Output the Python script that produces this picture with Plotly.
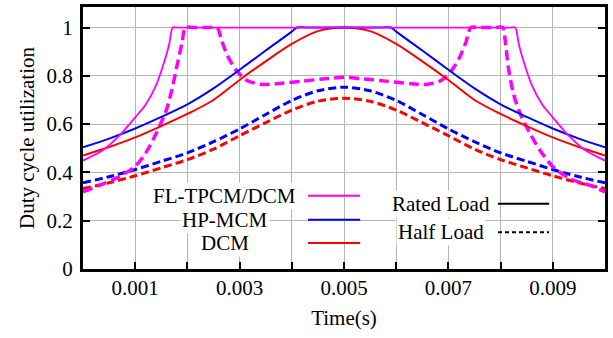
import plotly.graph_objects as go

# ---- data ----
t_std = [0, 0.0005, 0.001, 0.0015, 0.002, 0.0025, 0.003, 0.0035, 0.004, 0.0045, 0.005,
         0.0055, 0.006, 0.0065, 0.007, 0.0075, 0.008, 0.0085, 0.009, 0.0095, 0.01]

dcm_rated = [0.470, 0.505, 0.545, 0.592, 0.642, 0.700, 0.783, 0.860, 0.932, 0.985, 1.000,
             0.985, 0.932, 0.860, 0.783, 0.700, 0.642, 0.592, 0.545, 0.505, 0.470]
dcm_half = [0.333, 0.357, 0.386, 0.419, 0.453, 0.496, 0.552, 0.606, 0.658, 0.695, 0.707,
            0.695, 0.658, 0.606, 0.552, 0.496, 0.453, 0.419, 0.386, 0.357, 0.333]
hp_half = [0.357, 0.382, 0.412, 0.446, 0.481, 0.527, 0.580, 0.640, 0.698, 0.738, 0.753,
           0.738, 0.698, 0.640, 0.580, 0.527, 0.481, 0.446, 0.412, 0.382, 0.357]

t_hp_rated = [0, 0.0005, 0.001, 0.0015, 0.002, 0.0025, 0.003, 0.0035, 0.004, 0.0041, 0.0043,
              0.0057, 0.0059, 0.006, 0.0065, 0.007, 0.0075, 0.008, 0.0085, 0.009, 0.0095, 0.01]
hp_rated = [0.504, 0.540, 0.582, 0.630, 0.682, 0.748, 0.825, 0.905, 0.983, 1.0, 1.0,
            1.0, 1.0, 0.983, 0.905, 0.825, 0.748, 0.682, 0.630, 0.582, 0.540, 0.504]

t_fl_rated = [0, 0.0004, 0.0007, 0.001, 0.0012, 0.0014, 0.00156, 0.00165, 0.00172, 0.0018,
              0.0082, 0.00828, 0.00835, 0.00844, 0.0086, 0.0088, 0.009, 0.0093, 0.0096, 0.01]
fl_rated = [0.449, 0.495, 0.553, 0.628, 0.680, 0.760, 0.860, 0.930, 1.0, 1.0,
            1.0, 1.0, 0.930, 0.860, 0.760, 0.680, 0.628, 0.553, 0.495, 0.449]

t_fl_half = [0, 0.0003, 0.0006, 0.001, 0.0012, 0.0014, 0.0016, 0.0017, 0.0018, 0.0019, 0.00196,
             0.0021, 0.0024, 0.00257, 0.00266, 0.00279, 0.00295, 0.00314, 0.0034, 0.0037,
             0.0042, 0.0047, 0.005,
             0.0053, 0.0058, 0.0063, 0.0066, 0.00686, 0.00705, 0.00721, 0.00734, 0.00743,
             0.0076, 0.0079, 0.00804, 0.00809, 0.00815, 0.00825, 0.00838, 0.00857, 0.00876,
             0.00901, 0.00933, 0.00971, 0.01]
fl_half = [0.319, 0.345, 0.372, 0.425, 0.480, 0.560, 0.660, 0.740, 0.840, 0.940, 1.0,
           1.0, 1.0, 1.0, 0.942, 0.874, 0.819, 0.781, 0.765, 0.767,
           0.778, 0.789, 0.794,
           0.789, 0.778, 0.767, 0.765, 0.781, 0.819, 0.874, 0.942, 1.0,
           1.0, 1.0, 1.0, 0.942, 0.833, 0.723, 0.641, 0.559, 0.490,
           0.422, 0.374, 0.346, 0.319]

x_tickvals = [0.001, 0.002, 0.003, 0.004, 0.005, 0.006, 0.007, 0.008, 0.009]
x_ticktext = ["0.001", "", "0.003", "", "0.005", "", "0.007", "", "0.009"]
y_tickvals = [0, 0.2, 0.4, 0.6, 0.8, 1]
y_ticktext = ["0", "0.2", "0.4", "0.6", "0.8", "1"]

MAG, BLU, RED = "#ff00ff", "#0000ff", "#ff0000"
FONT = "Liberation Serif, Times New Roman, serif"

fig = go.Figure()

def add(x, y, color, width, dash=None):
    fig.add_trace(go.Scatter(x=x, y=y, mode="lines",
                             line=dict(color=color, width=width, dash=dash or "solid",
                                       shape="spline", smoothing=0.8),
                             showlegend=False, hoverinfo="skip"))

add(t_std, dcm_half, RED, 3, "8px,4px")
add(t_std, hp_half, BLU, 3, "8px,4px")
add(t_fl_half, fl_half, MAG, 3.5, "10px,5px")
add(t_std, dcm_rated, RED, 2)
add(t_hp_rated, hp_rated, BLU, 2)
add(t_fl_rated, fl_rated, MAG, 1.8)

fig.update_layout(
    width=613, height=338,
    margin=dict(l=83, r=8, t=4, b=69),
    paper_bgcolor="white", plot_bgcolor="white",
    font=dict(family=FONT, size=21, color="black"),
    xaxis=dict(range=[0, 0.01], tickvals=x_tickvals, ticktext=x_ticktext,
               showgrid=True, gridcolor="#b4b4b4", gridwidth=1,
               ticks="inside", ticklen=7, tickwidth=2, tickcolor="black",
               showline=True, linecolor="black", linewidth=3, mirror=True,
               zeroline=False, ticklabelstandoff=-2,
               title=dict(text="Time(s)", standoff=12, font=dict(size=21))),
    yaxis=dict(range=[0, 1.085], tickvals=y_tickvals, ticktext=y_ticktext,
               showgrid=True, gridcolor="#b4b4b4", gridwidth=1,
               ticks="inside", ticklen=7, tickwidth=2, tickcolor="black",
               showline=True, linecolor="black", linewidth=3, mirror="ticks",
               zeroline=False, ticklabelstandoff=3,
               title=dict(text="Duty cycle utilization", standoff=7, font=dict(size=21))),
)

# legend (drawn manually to match the reference layout)
leg_left = [("FL-TPCM/DCM", MAG, 0.280), ("HP-MCM", BLU, 0.188), ("DCM", RED, 0.099)]
for txt, col, yy in leg_left:
    fig.add_annotation(x=0.272, y=yy, xref="paper", yref="paper", text=txt,
                       showarrow=False, xanchor="center", yanchor="middle",
                       font=dict(size=21, family=FONT), bgcolor="white")
    fig.add_shape(type="line", xref="paper", yref="paper", x0=0.431, x1=0.531,
                  y0=yy, y1=yy, line=dict(color=col, width=2))

leg_right = [("Rated Load", "solid", 0.249), ("Half Load", "4px,3px", 0.140)]
for txt, dsh, yy in leg_right:
    fig.add_annotation(x=0.685, y=yy, xref="paper", yref="paper", text=txt,
                       showarrow=False, xanchor="center", yanchor="middle",
                       font=dict(size=21, family=FONT), bgcolor="white")
    fig.add_shape(type="line", xref="paper", yref="paper", x0=0.795, x1=0.893,
                  y0=yy, y1=yy, line=dict(color="black", width=2, dash=dsh))

fig.write_html("out.html")
